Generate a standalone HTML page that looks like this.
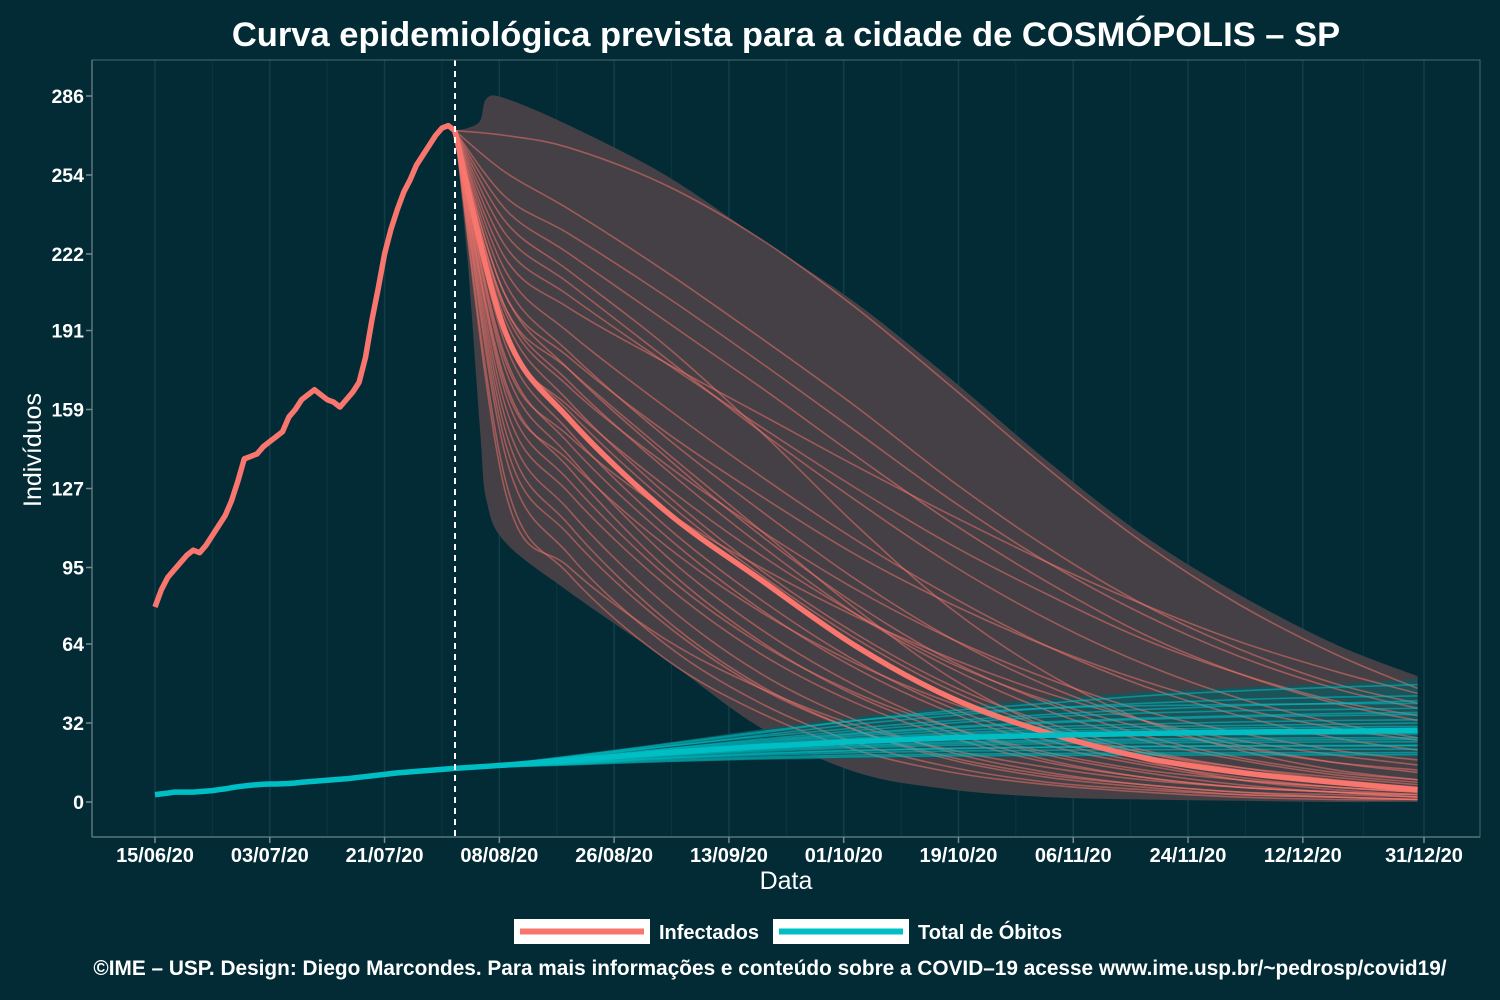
<!DOCTYPE html>
<html><head><meta charset="utf-8"><style>
body{margin:0;background:#022b36;}
svg{display:block;font-family:"Liberation Sans",sans-serif;}
</style></head><body>
<svg id="chart" width="1500" height="1000" viewBox="0 0 1500 1000">
<rect x="0" y="0" width="1500" height="1000" fill="#022b36"/>
<text x="786" y="46" text-anchor="middle" fill="#fff" font-size="34.5" font-weight="bold">Curva epidemiológica prevista para a cidade de COSMÓPOLIS – SP</text>
<g id="grid"></g><g id="ribbons"></g><g id="lines"></g><g id="axes"></g>
<text transform="translate(41,450) rotate(-90)" text-anchor="middle" fill="#fff" font-size="25">Indivíduos</text>
<text x="786" y="889" text-anchor="middle" fill="#fff" font-size="25">Data</text>
<g>
<g><rect x="514" y="919" width="136" height="25" fill="#fff"/><line x1="520" y1="931.5" x2="644" y2="931.5" stroke="#f8766d" stroke-width="6"/><text x="659" y="939" fill="#fff" font-size="20" font-weight="bold">Infectados</text></g>
<g><rect x="773" y="919" width="136" height="25" fill="#fff"/><line x1="779" y1="931.5" x2="903" y2="931.5" stroke="#00bfc4" stroke-width="6"/><text x="918" y="939" fill="#fff" font-size="20" font-weight="bold">Total de Óbitos</text></g>
</g>
<text x="770" y="975" text-anchor="middle" fill="#fff" font-size="20.8" font-weight="bold">©IME – USP. Design: Diego Marcondes. Para mais informações e conteúdo sobre a COVID–19 acesse www.ime.usp.br/~pedrosp/covid19/</text>
</svg>
<script>
const xTickLabels=["15/06/20","03/07/20","21/07/20","08/08/20","26/08/20","13/09/20","01/10/20","19/10/20","06/11/20","24/11/20","12/12/20","31/12/20"];
const xTickDays=[0,18,36,54,72,90,108,126,144,162,180,199];
const yTicks=[0,32,64,95,127,159,191,222,254,286];
const infectedObs=[79,86,91,94,97,100,102,101,104,108,112,116,122,130,139,140,141,144,146,148,150,156,159,163,165,167,165,163,162,160,163,166,170,180,195,208,222,232,240,247,252,258,262,266,270,273,274,272];
const deathsObs=[3,3.3,3.6,4,4,4,4,4.2,4.4,4.6,5,5.3,5.8,6.2,6.5,6.8,7,7.2,7.3,7.3,7.4,7.5,7.7,8,8.2,8.4,8.6,8.8,9,9.2,9.4,9.7,10,10.3,10.6,10.9,11.2,11.5,11.8,12,12.2,12.4,12.6,12.8,13,13.2,13.4,13.6];
const fcDays=[47,55,65,80,95,110,125,140,155,170,185,198];
const infMedian=[272,190,155,118,90,63,42,28,18,12,8,5];
const infLines=[
[272,270,265,250,228,200,168,135,105,80,60,46],[272,255,240,215,188,160,130,103,80,62,48,40],
[272,240,222,195,168,140,113,89,68,52,40,33],[272,230,210,180,150,122,96,74,56,42,32,26],
[272,225,205,178,152,127,104,84,66,52,41,35],[272,215,190,160,132,106,83,63,47,35,26,21],
[272,210,182,148,118,90,66,47,33,23,16,12],[272,205,175,140,108,80,57,40,27,18,12,9],
[272,200,170,135,104,76,54,37,25,17,11,8],[272,198,168,137,110,86,66,50,37,28,21,17],
[272,195,162,125,94,68,47,32,21,14,9,6],[272,190,158,122,92,66,45,30,20,13,8,5],
[272,185,150,112,82,57,38,25,16,10,6,4],[272,180,145,108,78,54,36,23,15,9,6,4],
[272,178,148,118,95,75,58,44,33,25,19,15],[272,175,140,100,70,47,30,19,12,7,4,3],
[272,170,135,95,65,43,28,17,10,6,4,2],[272,165,130,92,64,44,30,20,13,9,6,4],
[272,160,125,88,60,40,26,16,10,6,4,2],[272,155,118,80,52,33,20,12,7,4,2,1],
[272,150,112,74,47,29,17,10,6,3,2,1],[272,145,108,72,46,29,18,11,7,4,3,2],
[272,140,100,64,40,24,14,8,5,3,2,1],[272,130,92,58,36,21,12,7,4,2,1,1],
[272,125,95,66,46,31,21,14,9,6,4,3],[272,220,200,178,157,136,116,97,80,65,53,44],
[272,245,230,205,178,150,122,97,76,59,46,38],[272,205,180,150,124,100,80,63,49,38,30,25],
[272,188,160,128,100,76,56,41,30,22,16,13],[272,168,138,104,77,56,40,28,20,14,10,7],
[272,200,175,142,110,78,50,30,17,9,5,3],[272,235,215,185,150,112,78,52,33,21,13,9]];
const ribDays=[47,49,51,52,55,65,80,95,110,125,140,155,170,185,198];
const infUpper=[272,273,276,285,285,274,254,228,202,171,138,108,84,64,51];
const infLower=[272,220,150,122,105,85,58,30,12,5,2,1,0.5,0,0];
const deathMedian=[13.6,15,17,20,22.5,24.5,26,27,27.8,28.3,28.7,29];
const deathLines=[
[13.6,15.5,18.5,23,28,33,37,40,43,45,46.5,47.5],[13.6,15.5,18,22.5,27,31.5,35,38,40,41.5,42.5,43],
[13.6,15.2,17.5,21.5,25.5,29,32,34.5,36,37,37.5,38],[13.6,15,17.3,21,24.5,27.5,30,32,33.5,34.5,35,35.5],
[13.6,15,17,20.5,23.5,26,28,29.5,30.5,31,31.5,32],[13.6,14.8,16.8,20,22.5,24.5,26,27,27.5,28,28,28.3],
[13.6,14.8,16.5,19.5,22,24,25.5,26.5,27,27.3,27.5,27.6],[13.6,14.7,16.3,19,21.3,23,24.3,25,25.5,25.8,26,26],
[13.6,14.6,16,18.5,20.5,22,23,23.6,24,24.2,24.3,24.4],[13.6,14.5,15.8,18,19.8,21,21.8,22.3,22.6,22.8,22.9,23],
[13.6,14.4,15.5,17.5,19,20,20.6,21,21.2,21.3,21.4,21.4],[13.6,14.3,15.3,17,18.2,19,19.4,19.6,19.8,19.9,19.9,20],
[13.6,15.3,18,22.5,26.5,30,33,35.5,37.5,39,40,41],[13.6,15.1,17.5,21.5,25,28,30.5,32.5,34,35,35.8,36.3],
[13.6,15,17.2,20.8,24,26.8,29,30.5,31.6,32.4,33,33.3],[13.6,14.9,16.9,20.2,23,25.5,27.3,28.6,29.4,30,30.4,30.6],
[13.6,14.7,16.6,19.8,22.3,24.3,25.8,26.8,27.4,27.8,28,28.2],[13.6,14.5,16,18.8,21,22.6,23.7,24.4,24.8,25,25.2,25.3],
[13.6,14.4,15.6,17.8,19.5,20.8,21.6,22.1,22.4,22.6,22.7,22.8],[13.6,15.4,18.3,23.5,28.5,33,36,38,39,39.5,39.8,40],
[13.6,14.2,15,16.5,17.6,18.3,18.7,18.9,19,19.1,19.1,19.2]];
const dRibUpper=[13.6,15.8,19,24,29.5,34.5,38.5,42,44.5,46.5,48,50];
const dRibLower=[13.6,14,14.8,16,17,17.6,18,18.2,18.3,18.4,18.4,18.4];

const X0=155,PX=1269/199,Y0=802,PY=706/286;
const xs=d=>X0+d*PX, ys=v=>Y0-v*PY;
const NS="http://www.w3.org/2000/svg";
function mk(tag,attrs,parent){const e=document.createElementNS(NS,tag);for(const k in attrs)e.setAttribute(k,attrs[k]);parent.appendChild(e);return e;}
function pts(days,vals){return days.map((d,i)=>[xs(d),ys(vals[i])]);}
function smooth(p){let s="M"+p[0][0].toFixed(1)+","+p[0][1].toFixed(1);
 for(let i=0;i<p.length-1;i++){const a=p[Math.max(0,i-1)],b=p[i],c=p[i+1],d=p[Math.min(p.length-1,i+2)];
  const c1=[b[0]+(c[0]-a[0])/6,b[1]+(c[1]-a[1])/6],c2=[c[0]-(d[0]-b[0])/6,c[1]-(d[1]-b[1])/6];
  s+=" C"+c1[0].toFixed(1)+","+c1[1].toFixed(1)+" "+c2[0].toFixed(1)+","+c2[1].toFixed(1)+" "+c[0].toFixed(1)+","+c[1].toFixed(1);}
 return s;}
function ribbon(days,up,lo){const u=pts(days,up),l=pts(days,lo).reverse();return smooth(u)+" L"+smooth(l).slice(1)+" Z";}
const grid=document.getElementById('grid'),rib=document.getElementById('ribbons'),ln=document.getElementById('lines'),ax=document.getElementById('axes');
for(let i=0;i<xTickDays.length;i++){
 const g=mk('line',{x1:xs(xTickDays[i]),x2:xs(xTickDays[i]),y1:60,y2:837,stroke:'#123e49','stroke-width':1.5},grid);
 
 
 if(i<xTickDays.length-1){const m=mk('line',{x1:xs((xTickDays[i]+xTickDays[i+1])/2),x2:xs((xTickDays[i]+xTickDays[i+1])/2),y1:60,y2:837,stroke:'#0b3641','stroke-width':1},grid);
 
 }
}
const r1=mk('path',{d:ribbon(ribDays,infUpper,infLower),fill:'#444045'},rib);


const r2=mk('path',{d:ribbon(fcDays,dRibUpper,dRibLower),fill:'#0d5a60','fill-opacity':0.75},rib);


infLines.forEach(v=>{const p=mk('path',{d:smooth(pts(fcDays,v)),fill:'none',stroke:'#f8766d','stroke-opacity':0.5,'stroke-width':1.6},ln);
 
 });
deathLines.forEach(v=>{const p=mk('path',{d:smooth(pts(fcDays,v)),fill:'none',stroke:'#00bfc4','stroke-opacity':0.55,'stroke-width':1.6},ln);
 
 });
const im=mk('path',{d:smooth(pts(fcDays,infMedian)),fill:'none',stroke:'#f8766d','stroke-width':5.5},ln);


const dm=mk('path',{d:smooth(pts(fcDays,deathMedian)),fill:'none',stroke:'#00bfc4','stroke-width':5.5},ln);


const obsDays=infectedObs.map((v,i)=>i);
const io=mk('path',{d:"M"+pts(obsDays,infectedObs).map(p=>p.join(",")).join(" L"),fill:'none',stroke:'#f8766d','stroke-width':5.5,'stroke-linejoin':'round'},ln);


const dDays=deathsObs.map((v,i)=>i);
const dob=mk('path',{d:"M"+pts(dDays,deathsObs).map(p=>p.join(",")).join(" L"),fill:'none',stroke:'#00bfc4','stroke-width':5.5,'stroke-linejoin':'round'},ln);


const dl=mk('line',{x1:455,x2:455,y1:60,y2:837,stroke:'#fff','stroke-width':2,'stroke-dasharray':'6,5'},ln);


const a1=mk('line',{x1:92,x2:92,y1:60,y2:837,stroke:'#7a8a8f','stroke-width':1.5},ax);


const a2=mk('line',{x1:92,x2:1480,y1:837,y2:837,stroke:'#7a8a8f','stroke-width':1.5},ax);


const a3=mk('rect',{x:92,y:60,width:1388,height:777,fill:'none',stroke:'#4a6a72','stroke-width':1},ax);


yTicks.forEach(v=>{const t=mk('line',{x1:86,x2:92,y1:ys(v),y2:ys(v),stroke:'#7a8a8f','stroke-width':1.5},ax);
 
 
 const l=mk('text',{x:84,y:ys(v)+7,'text-anchor':'end',fill:'#fff','font-size':19.5,'font-weight':'bold'},ax);l.textContent=v;
 
 });
xTickDays.forEach((d,i)=>{const t=mk('line',{x1:xs(d),x2:xs(d),y1:837,y2:843,stroke:'#7a8a8f','stroke-width':1.5},ax);
 
 
 const l=mk('text',{x:xs(d),y:862,'text-anchor':'middle',fill:'#fff','font-size':20,'font-weight':'bold'},ax);l.textContent=xTickLabels[i];
 
 });
</script>
</body></html>
